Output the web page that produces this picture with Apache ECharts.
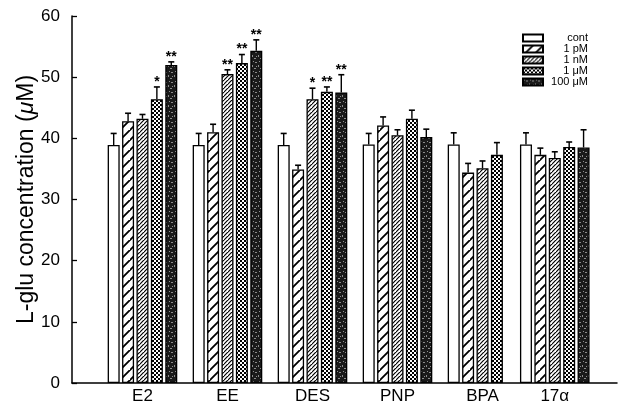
<!DOCTYPE html>
<html><head><meta charset="utf-8">
<script src="https://cdn.jsdelivr.net/npm/echarts@6/dist/echarts.min.js"></script>
<style>html,body{margin:0;padding:0;background:#fff}#c{width:622px;height:417px}</style>
</head><body><div id="c"></div>
<script>
// ---- data ----
const categories = ['E2', 'EE', 'DES', 'PNP', 'BPA', '17α'];
const groupPos = [0, 1, 2, 3, 4, 4.85];          // BPA has 4 bars, so 17α sits closer
const seriesNames = ['cont', '1 pM', '1 nM', '1 μM', '100 μM'];
const valCont  = [38.9, 38.9, 38.9, 39.0, 39.0, 39.0];
const valPM1   = [42.8, 41.0, 34.9, 42.1, 34.4, 37.3];
const valNM1   = [43.2, 50.5, 46.4, 40.5, 35.1, 36.8];
const valUM1   = [46.4, 52.3, 47.6, 43.2, 37.3, 38.6];
const valUM100 = [52.0, 54.3, 47.5, 40.2, null, 38.5];
const errCont  = [1.9, 1.9, 1.9, 1.8, 1.9, 1.9];
const errPM1   = [1.3, 1.3, 0.7, 1.4, 1.5, 1.1];
const errNM1   = [0.7, 0.7, 1.8, 0.9, 1.2, 1.0];
const errUM1   = [2.0, 1.4, 0.8, 1.4, 2.0, 0.8];
const errUM100 = [0.5, 1.8, 2.9, 1.3, null, 2.9];
const sigCont  = ['', '', '', '', '', ''];
const sigPM1   = ['', '', '', '', '', ''];
const sigNM1   = ['', '**', '*', '', '', ''];
const sigUM1   = ['*', '**', '**', '', '', ''];
const sigUM100 = ['**', '**', '**', '', '', ''];
const yTicks = [0, 10, 20, 30, 40, 50, 60];

const values = [valCont, valPM1, valNM1, valUM1, valUM100];
const errs = [errCont, errPM1, errNM1, errUM1, errUM100];
const sigs = [sigCont, sigPM1, sigNM1, sigUM1, sigUM100];

// ---- patterns ----
function tile(w, h, draw) {
  const c = document.createElement('canvas');
  c.width = w; c.height = h;
  const g = c.getContext('2d');
  draw(g, w, h);
  return { image: c, repeat: 'repeat' };
}
function hatch(s, lw) {
  return tile(s, s, (g, w, h) => {
    g.fillStyle = '#fff'; g.fillRect(0, 0, w, h);
    g.strokeStyle = '#000'; g.lineWidth = lw;
    g.beginPath();
    g.moveTo(-1, h + 1); g.lineTo(w + 1, -1);
    g.moveTo(-1 - w, h + 1); g.lineTo(1, -1);
    g.moveTo(w - 1, 2 * h + 1); g.lineTo(2 * w + 1, h - 1);
    g.stroke();
  });
}
const patCont = '#ffffff';
const patPM1 = hatch(10, 1.8);
const patNM1 = hatch(4, 1.2);
const patUM1 = tile(4, 4, (g) => {
  g.fillStyle = '#fff'; g.fillRect(0, 0, 4, 4);
  g.fillStyle = '#000'; g.fillRect(0, 0, 2, 2); g.fillRect(2, 2, 2, 2);
});
const patUM100 = tile(6, 10, (g) => {
  g.fillStyle = '#1a1a1a'; g.fillRect(0, 0, 6, 10);
  g.fillStyle = '#8c8c8c';
  g.fillRect(1, 1, 1, 1); g.fillRect(3, 2, 2, 1); g.fillRect(0, 5, 1, 2);
  g.fillRect(4, 6, 1, 1); g.fillRect(2, 8, 2, 1);
});
const fills = [patCont, patPM1, patNM1, patUM1, patUM100];

// ---- layout constants ----
const BAR_W = 12, BAR_GAP = 2.4;
const totalW = BAR_W * 5 + BAR_GAP * 4;
const offsets = [0, 1, 2, 3, 4].map(i => -totalW / 2 + BAR_W / 2 + i * (BAR_W + BAR_GAP));

const chart = echarts.init(document.getElementById('c'), null, { renderer: 'canvas' });

const barSeries = seriesNames.map((name, si) => ({
  type: 'bar',
  name: name,
  barWidth: BAR_W,
  barGap: (BAR_GAP / BAR_W * 100) + '%',
  data: categories.map((c, gi) => values[si][gi] == null ? [groupPos[gi], '-'] : [groupPos[gi], values[si][gi]]),
  itemStyle: { color: fills[si], borderColor: '#000', borderWidth: 1.3 },
  emphasis: { disabled: true },
  animation: false
}));

const errData = [];
seriesNames.forEach((n, si) => categories.forEach((c, gi) => {
  if (values[si][gi] != null) errData.push([groupPos[gi], values[si][gi], errs[si][gi], si, gi]);
}));

const errSeries = {
  type: 'custom',
  name: 'err',
  data: errData,
  encode: { x: 0, y: 1 },
  z: 5,
  animation: false,
  renderItem: (params, api) => {
    const x = api.value(0), v = api.value(1), e = api.value(2), si = api.value(3), gi = api.value(4);
    const p0 = api.coord([x, v]);
    const p1 = api.coord([x, v + e]);
    const cx = p0[0] + offsets[si];
    const children = [
      { type: 'line', shape: { x1: cx, y1: p0[1], x2: cx, y2: p1[1] }, style: { stroke: '#000', lineWidth: 1.4 } },
      { type: 'line', shape: { x1: cx - 3, y1: p1[1], x2: cx + 3, y2: p1[1] }, style: { stroke: '#000', lineWidth: 1.6 } }
    ];
    const s = sigs[si][gi];
    if (s) children.push({ type: 'text', x: cx, y: p1[1] + 2,
      style: { text: s, fill: '#000', font: 'bold 14px "Liberation Sans", Arial, sans-serif', align: 'center', verticalAlign: 'bottom' } });
    return { type: 'group', children };
  }
};

chart.setOption({
  backgroundColor: '#fff',
  animation: false,
  textStyle: { fontFamily: '"Liberation Sans", Arial, Helvetica, sans-serif' },
  grid: { left: 72, right: 5, top: 16, bottom: 34, containLabel: false, outerBoundsMode: 'none' },
  legend: {
    orient: 'vertical', left: 517, top: 27,
    itemWidth: 20, itemHeight: 7, itemGap: -1,
    icon: 'rect',
    data: seriesNames,
    formatter: n => '{t|' + n + '}',
    textStyle: { fontSize: 11, lineHeight: 12, color: '#000',
      rich: { t: { width: 40, align: 'right', fontSize: 11, lineHeight: 12, color: '#000',
      fontFamily: '"Liberation Sans", Arial, sans-serif' } } },
    selectedMode: false
  },
  xAxis: {
    type: 'value', min: -0.829, max: 5.582,
    axisLine: { show: true, onZero: false, lineStyle: { color: '#000', width: 1.5 } },
    axisTick: { show: false },
    splitLine: { show: false },
    axisLabel: {
      customValues: groupPos,
      formatter: v => { const i = groupPos.indexOf(v); return i >= 0 ? categories[i] : ''; },
      color: '#000', fontSize: 17, margin: 5
    }
  },
  yAxis: {
    type: 'value', min: yTicks[0], max: yTicks[yTicks.length - 1], interval: 10,
    name: '{a|L-glu concentration (}{b|μ}{a|M)}',
    nameLocation: 'middle', nameGap: 34, nameRotate: 90, nameMoveOverlap: false,
    nameTextStyle: { rich: {
      a: { fontSize: 23, color: '#000', fontFamily: '"Liberation Sans", Arial, sans-serif' },
      b: { fontSize: 23, color: '#000', fontStyle: 'italic', fontFamily: '"Liberation Sans", Arial, sans-serif' } } },
    axisLine: { show: true, onZero: false, lineStyle: { color: '#000', width: 1.5 } },
    axisTick: { show: true, inside: true, length: 5, lineStyle: { color: '#000', width: 1.3 } },
    splitLine: { show: false },
    axisLabel: { color: '#000', fontSize: 17, margin: 12 }
  },
  series: [...barSeries, errSeries]
});
</script></body></html>
